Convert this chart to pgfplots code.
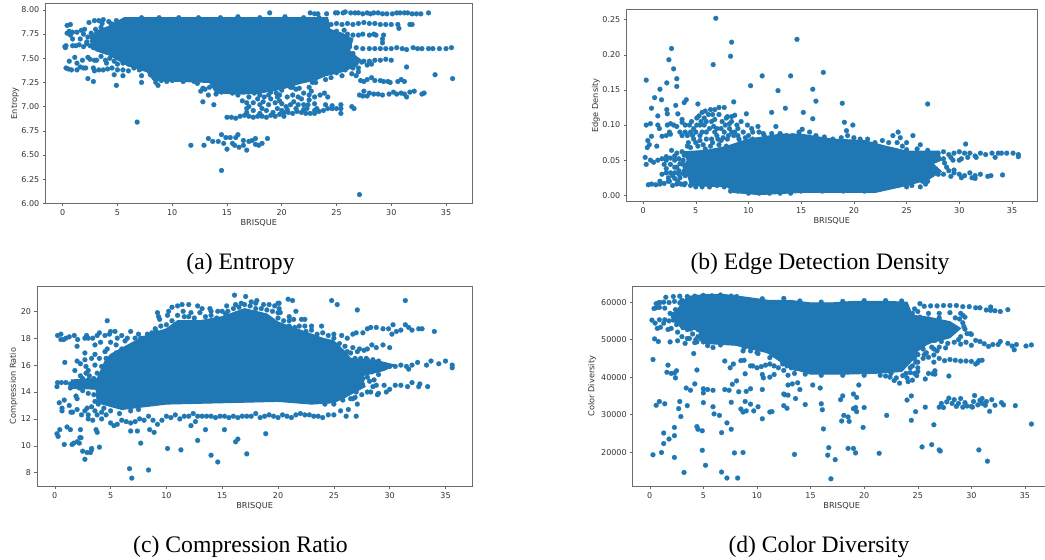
\documentclass[border=0pt]{standalone}
\usepackage{pgfplots}
\pgfplotsset{compat=1.18}
\usepackage{fontspec}
\setmainfont{DejaVu Sans}
\newfontfamily\capfont{Liberation Serif}
\definecolor{mpl}{HTML}{1F77B4}
\definecolor{tk}{HTML}{333333}
\pgfplotsset{panel/.style={
  scale only axis, anchor=south west,
  xmin=-1.59, xmax=37.4,
  xtick={0,5,...,35},
  tick align=outside, tick pos=left,
  major tick length=2.5pt,
  every tick/.style={draw=gray!80!black, line width=0.5pt},
  axis line style={draw=gray!85!black, line width=0.9pt},
  tick label style={font=\fontsize{8}{9}\selectfont, text=tk},
  label style={font=\fontsize{8.2}{9}\selectfont, text=tk},
  /pgf/number format/assume math mode=true,
  scaled ticks=false,
  xlabel={BRISQUE},
  xlabel style={at={(axis description cs:0.5,0)}, anchor=north, yshift=-12.5pt},
  ylabel style={at={(axis description cs:0,0.5)}, anchor=south},
  clip=true},
 core/.style={fill=mpl, draw=mpl, line width=1pt, no marks, forget plot},
 pts/.style={only marks, mark=*, mark size=2.45pt, mark options={fill=mpl, draw=mpl, line width=0.2pt}, forget plot}}
\begin{document}
\begin{tikzpicture}
\path[use as bounding box, clip] (0pt,0pt) rectangle (1045pt,560pt);
% (a) Entropy
\begin{axis}[panel, at={(45.3pt,356.7pt)}, width=427pt, height=200pt,
  ymin=6, ymax=8.069, ytick={6,6.25,...,8},
  yticklabel style={/pgf/number format/fixed, /pgf/number format/fixed zerofill, /pgf/number format/precision=2},
  ylabel={Entropy}, ylabel style={yshift=23pt}]
\addplot[core] coordinates {(5.6,7.92)(24.2,7.92)(24.4,7.8)(25.5,7.76)(26.5,7.7)(26.2,7.58)(27,7.5)(26.8,7.42)(25.5,7.36)(24,7.32)(23.2,7.28)(21.7,7.24)(20,7.18)(18,7.14)(16.5,7.13)(14,7.14)(13.4,7.25)(8.3,7.27)(7.7,7.36)(6,7.42)(4.3,7.53)(3,7.58)(2.5,7.68)(3,7.78)(4.2,7.83)(5.6,7.92)};
\addplot[pts] coordinates {
(3.5,7.52)(4.5,7.55)(5.5,7.45)(6.5,7.43)(5,7.55)(2.3,7.72)(2.7,7.72)(1.9,7.75)(3.5,7.82)(4.4,7.86)(5.2,7.85)(8,7.33)(9,7.29)(25,7.35)(25.8,7.38)(26.3,7.43)(24.5,7.3)(25.5,7.32)(24,7.28)(17,7.1)(17.8,7.08)(18.8,7.12)(19.8,7.12)(20.5,7.1)(21,7.12)(22,7.14)(22.5,7.07)(23,7.03)(21.5,7.02)(20.5,6.97)(21.3,6.98)(22.3,6.98)(23.2,6.98)(24,7.02)(17,7)(18.2,6.98)(18.8,7.02)(19.8,7.06)(16.8,6.94)(18,6.93)(19.2,6.94)(20.2,6.94)(22,6.97)(23,6.96)(24.6,7.01)
(4,7.45)(5,7.44)(6,7.44)(7,7.42)(7.5,7.4)(7.2,7.92)(8.8,7.92)(10.6,7.92)(12.4,7.92)(14.4,7.92)(16,7.93)(18,7.92)(20.3,7.93)(22,7.92)(23.4,7.92)(8.5,7.25)(9.5,7.26)(14,7.13)(16,7.12)(18,7.12)(19.5,7.14)(26.5,7.55)(25.6,7.45)(26.8,7.45)(27.3,7.46)(27,7.4)
(0.2,7.62)(0.3,7.63)(0.25,7.61)(0.9,7.63)(1.2,7.63)(1.5,7.64)(1.9,7.62)(2.2,7.65)(2.5,7.63)(2.8,7.61)(3.1,7.6)
(0.3,7.4)(0.5,7.39)(0.8,7.38)(1.3,7.38)(1.6,7.41)(1.9,7.4)(2.1,7.4)(2.8,7.4)(2.9,7.37)(3.3,7.38)(3.7,7.38)(4.1,7.39)(4.5,7.4)(5,7.38)(5.5,7.38)(6,7.37)(6.5,7.4)(7,7.38)
(0.6,7.47)(1.1,7.51)(1.3,7.45)(1.8,7.48)(2.3,7.51)(2.5,7.49)(2.9,7.48)(3.1,7.48)(3.9,7.48)(4.3,7.5)(4.7,7.47)(5.2,7.51)(5.7,7.47)(6.2,7.5)(6.7,7.47)
(0.4,7.84)(0.7,7.85)(0.4,7.76)(0.6,7.78)(0.7,7.74)(0.9,7.77)(0.9,7.7)(1.3,7.77)(1.7,7.79)(2,7.8)(2.4,7.87)(2.6,7.76)(3,7.8)(3.3,7.75)(3.6,7.7)(2.2,7.67)(1.6,7.7)(3,7.68)
(2.9,7.89)(3.3,7.89)(3.6,7.86)(3.7,7.9)(4.2,7.88)(4.6,7.85)(4.9,7.89)(5.4,7.88)(5.6,7.82)(4.9,7.8)
(2.3,7.29)(2.8,7.26)(4.9,7.22)(4.7,7.33)(5.5,7.32)(7.2,7.32)(7.2,7.25)(8.7,7.22)(12.3,7.24)(12.8,7.19)(12.6,7.16)(13,7.18)(13.3,7.12)(12.8,7.05)(13.8,7.02)(6.8,6.84)
(9,7.27)(10,7.27)(11,7.26)(12,7.26)(13.4,7.2)(14.5,7.15)(15.5,7.14)(17.5,7.14)(19,7.15)(20,7.17)(21,7.2)(21.6,7.19)(22.5,7.2)(22.8,7.25)(23.1,7.25)
(18.9,7.97)(22.6,7.97)(23,7.96)(23.3,7.96)(24.1,7.96)(24.9,7.97)(25.1,7.97)(25.6,7.97)(25.8,7.98)(26.3,7.97)(26.7,7.97)(27,7.97)(27.4,7.96)(27.8,7.97)(28.1,7.96)(28.4,7.97)(28.8,7.97)(29.2,7.96)(29.6,7.96)(30.1,7.96)(30.5,7.97)(30.8,7.97)(31.2,7.97)(31.5,7.97)(31.9,7.96)(32.3,7.96)(32.7,7.96)(33.4,7.97)
(24.5,7.85)(25,7.86)(25.5,7.85)(26,7.86)(26.5,7.85)(27,7.86)(27.5,7.87)(28,7.86)(28.5,7.86)(29,7.85)(29.5,7.85)(30,7.85)(30.6,7.85)(31.7,7.85)(31.9,7.85)(30.7,7.81)
(25,7.78)(25.7,7.79)(26,7.75)(26.5,7.74)(27,7.74)(27.4,7.75)(28,7.74)(28.4,7.75)(28.6,7.74)(29.3,7.74)(29.2,7.7)(29.2,7.66)
(26.2,7.62)(26.8,7.61)(27.4,7.6)(28,7.6)(28.5,7.6)(29,7.6)(29.5,7.6)(30,7.6)(30.5,7.61)(31,7.6)(31.4,7.59)(32,7.61)(32.4,7.6)(32.8,7.6)(33.4,7.6)(33.8,7.6)(34.4,7.6)(35,7.6)(35.5,7.61)
(26,7.5)(26.6,7.48)(27,7.48)(27.5,7.47)(28,7.47)(28.5,7.48)(29,7.48)(29.5,7.49)(30,7.48)(26.5,7.4)(27,7.36)(26.8,7.32)(26.4,7.34)(31.4,7.41)(28.2,7.44)(27.8,7.43)
(27.2,7.27)(27.5,7.26)(27.8,7.28)(28.2,7.3)(28.5,7.27)(29,7.27)(29.3,7.26)(29.7,7.26)(29.9,7.25)(30.6,7.26)(30.9,7.28)(31.2,7.26)(34,7.33)(35.6,7.29)
(27.1,7.12)(27.4,7.11)(27.5,7.16)(27.8,7.11)(28,7.14)(28.4,7.13)(28.8,7.13)(29.2,7.12)(29.8,7.13)(30.2,7.15)(30.5,7.13)(30.9,7.14)(31.2,7.13)(31.4,7.1)(31.7,7.15)(32.1,7.16)(32.8,7.13)(33,7.14)
(15,6.89)(15.4,6.89)(15.8,6.88)(16.2,6.9)(16.6,6.91)(17,6.9)(17.4,6.89)(17.8,6.9)(18.2,6.9)(18.6,6.89)(19,6.91)(19.4,6.9)(19.8,6.92)(20.2,6.9)(20.6,6.94)(21,6.93)(21.4,6.95)(21.8,6.94)(22.2,6.93)(22.6,6.93)(23,6.93)(23.4,6.95)(23.8,6.96)(24.2,6.98)(24.6,6.98)(25,6.98)(25.4,6.98)(25.4,6.93)(25.4,7.02)(26.4,7)(26.6,6.98)
(16.4,7.06)(16.8,7.04)(16.8,6.98)(17.4,7.04)(18,7.02)(18.3,7.05)(18.4,7.1)(19,7.08)(19.4,7.04)(19.6,7.1)(20,7.03)(20.4,7)(20.8,7.02)(21.1,7.05)(21.5,7.1)(21.8,7.08)(22,7.02)(22.4,7.02)(22.5,7.12)(23,7.1)(23.5,7.12)(23.9,7.14)(24.2,7.1)(20.8,7.2)(21.3,7.18)(22.7,7.16)(19.6,6.98)(20,6.96)(18.6,6.96)(17.4,6.96)
(11.7,6.6)(12.9,6.6)(13.3,6.67)(13.7,6.64)(14.2,6.64)(14.5,6.71)(14.7,6.62)(14.9,6.68)(15,6.56)(15.3,6.68)(15.5,6.62)(15.8,6.68)(16,6.71)(15.7,6.6)(16.1,6.58)(16.5,6.65)(16.5,6.6)(16.8,6.55)(17,6.64)(17.3,6.65)(17.6,6.67)(17.6,6.61)(17.9,6.6)(18.2,6.62)(18.7,6.67)(14.5,6.34)(27.1,6.09)};
\end{axis}
% (b) Edge Detection Density
\begin{axis}[panel, at={(626.3pt,358.3pt)}, width=411pt, height=192.4pt,
  ymin=-0.0091, ymax=0.2648, ytick={0,0.05,...,0.25},
  yticklabel style={/pgf/number format/fixed, /pgf/number format/fixed zerofill, /pgf/number format/precision=2},
  ylabel={Edge Density}, ylabel style={yshift=23pt}]
\addplot[core] coordinates {(3.8,0.062)(6,0.064)(8,0.07)(10,0.08)(13,0.087)(15,0.087)(18,0.08)(21,0.078)(23,0.07)(25,0.063)(28,0.063)(28.3,0.05)(27.5,0.045)(28.3,0.034)(27,0.022)(25,0.014)(22,0.004)(18,0.004)(15,0.004)(11,0.001)(8.6,0.004)(8,0.012)(4.5,0.014)(4.2,0.03)(3.8,0.04)(4.2,0.05)(3.8,0.062)};
\addplot[pts] coordinates {
(4.2,0.07)(4.8,0.08)(5.4,0.078)(6,0.09)(6.5,0.08)(7,0.095)(7.6,0.082)(8.4,0.09)(9,0.085)(9.7,0.082)(4.2,0.085)(4.6,0.105)(5.1,0.1)(5.8,0.11)(6.8,0.108)(7.2,0.115)(8.2,0.102)(10.4,0.09)(11,0.09)(2.2,0.055)(3,0.056)(3.5,0.045)(3,0.04)(2.2,0.038)(2.8,0.028)(3.4,0.035)(3.3,0.02)(2.5,0.02)(1.6,0.02)(26,0.066)(27,0.064)(27,0.02)(26.5,0.02)(28.8,0.04)(29.5,0.036)(28.6,0.046)(29.4,0.05)(30,0.05)
(4.5,0.068)(5.2,0.07)(5.9,0.066)(6.6,0.075)(7.4,0.078)(8,0.08)(8.6,0.085)(9.2,0.075)(4.8,0.095)(5.4,0.085)(6,0.105)(6.7,0.098)(7,0.085)(7.7,0.09)(8.2,0.095)(8.9,0.1)(9.3,0.105)(9.9,0.1)(6.2,0.115)(5.5,0.105)(7.5,0.105)(8,0.112)(9,0.095)(10.3,0.095)(11.4,0.088)(3.9,0.057)(3.9,0.035)(3.5,0.025)(4,0.028)(3.9,0.015)
(0.2,0.054)(0.3,0.044)(0.7,0.05)(1,0.047)(1.4,0.05)(1.8,0.052)(2.2,0.05)(2.6,0.053)(3,0.05)(3.4,0.052)(3.8,0.05)(2,0.044)(2.6,0.044)(3.2,0.04)(3.8,0.044)
(0.5,0.015)(0.8,0.016)(1.2,0.015)(1.6,0.016)(2,0.017)(2.4,0.02)(2.8,0.014)(3.2,0.016)(3.6,0.016)(4,0.017)
(1.8,0.03)(2.2,0.032)(2.6,0.032)(3,0.032)(3.4,0.03)(3.8,0.031)(2.4,0.025)(3,0.024)
(3.2,0.06)(3.7,0.062)(2.7,0.064)
(0.4,0.068)(0.6,0.072)(0.45,0.078)(0.8,0.084)(1.3,0.07)(1.4,0.1)(1.55,0.095)(1.8,0.084)(2.2,0.085)(2.5,0.09)(2.6,0.087)(2.3,0.1)(2.6,0.102)(2.9,0.1)(3.2,0.098)(3.5,0.09)(3.7,0.104)(3.7,0.085)(4,0.09)(4,0.1)(4.4,0.1)(4.5,0.09)(4.7,0.085)(5,0.09)(5.1,0.11)(5.4,0.1)(5.6,0.09)(5.8,0.1)(6,0.08)(6.3,0.095)(6.5,0.105)(6.8,0.09)(7.1,0.08)(7.4,0.095)(7.8,0.1)(8.1,0.085)(8.4,0.105)(8.7,0.09)(9.1,0.08)(9.5,0.09)(10,0.085)(10.4,0.08)(10.9,0.098)(4.3,0.075)(5,0.075)(5.7,0.072)(6.4,0.07)(7.2,0.072)(7.9,0.07)
(0.3,0.1)(0.7,0.102)(0.3,0.164)(0.8,0.124)(1.1,0.139)(1.6,0.151)(1.75,0.136)(1.4,0.113)(2.25,0.122)(2.3,0.116)(2.25,0.16)(2.45,0.193)(2.7,0.209)(2.9,0.18)(3.2,0.166)(3.2,0.155)(3.1,0.128)(3.3,0.116)(3.7,0.108)(3.9,0.132)(4.1,0.136)(5.2,0.13)(5.3,0.113)(5.6,0.118)(5.9,0.12)(6.4,0.122)(6.6,0.115)(6.8,0.122)(7.2,0.125)(7.7,0.125)(7.9,0.11)(8.4,0.112)(8.7,0.114)(8.6,0.133)(6.65,0.186)(6.9,0.252)(8.3,0.198)(8.4,0.218)(10.2,0.156)(9.8,0.116)(11.3,0.17)(12.2,0.118)(12.8,0.149)(12.6,0.098)(13.5,0.124)(14,0.17)(14.6,0.222)(15.2,0.118)(16.1,0.109)(16.1,0.151)(16.4,0.134)(17.1,0.175)(18.9,0.131)(19.1,0.104)(19.3,0.092)(19.9,0.1)(27,0.13)
(11.5,0.085)(12.2,0.088)(13,0.088)(13.6,0.085)(14.2,0.085)(14.8,0.09)(15.1,0.094)(15.8,0.09)(16.4,0.085)(17.2,0.083)(18,0.08)(18.8,0.082)(19.4,0.085)(20,0.082)(20.6,0.08)(21.3,0.08)(22,0.075)(22.7,0.078)(23.3,0.075)(23.7,0.085)(24.2,0.09)(24.4,0.082)(24.1,0.075)(24.6,0.07)(25,0.075)(25.6,0.085)(26.3,0.072)(25,0.065)(30.6,0.073)
(28,0.06)(28.5,0.062)(29,0.058)(29.5,0.06)(30,0.062)(30.5,0.06)(31,0.06)(31.5,0.056)(32,0.06)(32.5,0.058)(33.1,0.06)(33.4,0.054)(33.7,0.06)(34,0.06)(34.5,0.06)(35.1,0.06)(35.6,0.058)(35.6,0.055)(28.5,0.052)(29.2,0.054)(30.2,0.052)(30.8,0.054)(31.6,0.054)
(28,0.03)(28.5,0.03)(29,0.035)(29.5,0.032)(30,0.03)(30.5,0.028)(31,0.032)(31.5,0.028)(32,0.03)(32.7,0.027)(33,0.028)(34.1,0.029)(29.2,0.027)(30.2,0.025)(31.2,0.025)(31.5,0.024)
(25,0.012)(25.5,0.014)(26.3,0.012)(26.8,0.016)(24.2,0.014)(23.5,0.014)(22.9,0.012)
(8.3,0.006)(9,0.006)(10,0.003)(11,0.003)(12,0.003)(13,0.003)(14,0.003)(15,0.006)(17,0.006)(19,0.006)(21,0.006)(4.5,0.014)(5,0.012)(5.6,0.012)(6.3,0.012)(7,0.014)(7.7,0.012)};
\end{axis}
% (c) Compression Ratio
\begin{axis}[panel, at={(37pt,73.7pt)}, width=435.3pt, height=200.3pt,
  ymin=6.99, ymax=21.88, ytick={8,10,...,20},
  ylabel={Compression Ratio}, ylabel style={yshift=16pt}]
\addplot[core] coordinates {(3.8,15)(4.5,16.3)(5,16.8)(7,17.7)(8.5,18.3)(10,18.7)(11,19.3)(13,19.3)(15,19.6)(17,20.2)(19,19.8)(20,19.2)(22,18.6)(24,18)(25,17.8)(26,17)(26.5,16.5)(29,16.3)(30.5,16)(29.5,15.6)(27.5,15.2)(27.8,14.4)(26,13.6)(25,13.2)(23,13.1)(20,13.3)(15,13.2)(10,13.1)(6,12.7)(3.8,13.2)(3.7,14.2)(1.5,14.3)(1.5,14.9)(3.8,15)};
\addplot[pts] coordinates {
(10.5,19.3)(11,19.7)(11.5,20)(12,19.6)(12.5,19.5)(13,19.9)(13.5,19.6)(14,19.7)(14.5,19.5)(15,20)(15.5,20)(16,20.2)(16.5,20.3)(15.3,19.8)(14,20)(17,20.5)(17.5,20.4)(18,20.2)(18.5,20.2)(19,20.1)(19.5,20)(20,19.9)(20.5,19.3)(21,18.9)(21.5,18.8)(22.5,18.5)(23,18.6)(23.5,18.3)(24,18.4)(24.5,18.2)(25,18)(9,18.7)(9.5,18.9)(10,19)(8,18)(7.5,18.3)(6.5,18)(5.5,17.5)(6,17.2)(5,17.7)(4.5,17)(4,16.5)(5.5,16.9)(3.5,15)(3,14.9)(3,15.6)(3.8,15.4)(4,14)(3.5,13.8)(3,13.9)(3.6,12.6)(4.4,12.8)(5,12.6)(5.8,12.4)(6.8,12.6)(7.5,12.7)(26.5,16.9)(26.9,16.5)(27.4,16.5)(27.9,16.5)(28.5,16.4)(26.5,13.5)(27.5,15.6)(28,15.5)(28.2,14.8)(28.8,14.5)(27.2,14.8)(25.8,13.4)(25,13.1)(24.2,13.1)
(0.2,14.4)(0.25,14.7)(0.6,14.7)(1,14.7)(1.4,14.6)(1.4,14.3)(1.8,14.4)(2.2,14.3)(2.5,14.1)
(0.4,13.2)(0.65,12.6)(0.65,12.8)(0.85,13.4)(1.3,13)(1.45,12.5)(1.6,12.5)(1.9,13.7)(2,13.5)(2,12.7)(2.4,12.3)(2.7,12.6)(2.9,12.8)(3,12.3)(3.3,12.9)(3.6,13.3)(3.9,13.1)(4.2,12.5)
(0.25,18.2)(0.55,18.3)(0.55,17.9)(0.8,17.9)(1,18)(1.3,18.1)(1.75,18.2)(2.05,17.9)(2,17.4)(2.7,18)(2.85,18.2)(3,18)(3.4,18)(3.6,17.5)(3.8,18.2)(4,18.4)(4.1,17.7)(4.5,18.2)(4.9,18.3)(5,18.5)(4.7,19.3)(5.4,18.5)(5.6,18)(6,18.2)(6.3,17.8)(6.8,18.5)(7.2,18)(7.7,18)(8.3,18.3)(8.7,18.4)(9.1,18.5)
(0.9,16.2)(1.8,15.6)(2,16.3)(2.3,16.1)(2.7,16.9)(2.7,16.4)(2.8,15.9)(2.8,15.4)(3.1,15.2)(3.3,16.5)(3.6,16)(3.6,16.8)(4.2,15.9)(4.6,16.5)(4.7,17.2)(2.3,15.2)(2.5,15)
(0.2,10.9)(0.3,10.7)(0.45,11.2)(0.85,10.1)(1.1,11.4)(1.4,11.2)(1.55,10.1)(1.7,10.2)(2,10.3)(2.2,10.2)(2.25,10.6)(2.35,10.6)(2.3,11.2)(2.5,9.6)(2.7,9)(2.9,9.5)(3.2,9.5)(3.3,9.7)(3.3,9.8)(4,9.9)(3.7,11.2)(3.8,11)(6.7,8.3)(6.9,7.6)(6.8,11.1)(7.4,11.1)(7.7,10.2)(8.4,8.2)(8.5,11.2)(8.9,11)(10.1,9.8)(11.3,9.7)(12.2,11.5)(12.6,11.8)(12.8,10.4)(13.5,11.2)(14,9.3)(14.6,8.8)(15.2,11.2)(16.2,10.3)(16.4,10.5)(17.2,9.4)(18.9,10.9)
(3,12)(3.4,11.9)(3.8,12.3)(4.2,12)(4.6,12.3)(5,11.7)(5.3,11.5)(5.6,11.6)(6,11.9)(6.4,11.8)(6.8,11.7)(7.2,11.8)(7.6,12)(8,11.9)(8.4,12.2)(8.8,11.9)(9.2,11.6)(9.6,11.9)(10,12.2)(10.4,12.1)(10.8,12.3)(11.2,12)(11.6,12.2)(12,12.2)(12.4,12.4)(12.8,12.2)(13.2,12.2)(13.6,12.2)(14,12.2)(14.4,12.1)(14.8,12.2)(15.2,12.2)(15.6,12.1)(16,12.2)(16.4,12.1)(16.8,12.2)(17.2,12.2)(17.6,12.2)(18,12.4)(18.4,12.1)(18.8,12.2)(19.2,12.3)(19.6,12.2)(20,12.1)(20.4,12.3)(20.8,12.2)(21.2,12.1)(21.6,12.3)(22,12.4)(22.4,12.3)(22.8,12.3)(23.2,12.2)(23.6,12.2)(24,12.1)(24.5,12.3)(25,12.3)(25.6,12.6)(26.1,12.2)(26.3,12.7)(27,12.2)(27.1,13.1)(26.7,13.5)
(9.2,19.9)(9.3,19.6)(9.4,19.4)(10.1,19.7)(10.2,20)(10.5,20.3)(11,20.4)(11.4,20.5)(12,20.5)(12.2,19.9)(11.6,19.6)(12.8,20.4)(13.2,20.2)(13.9,20.2)(14.6,20)(15.4,20.4)(16.1,21.2)(16.2,20.5)(16.7,20.6)(17.1,21.1)(17.6,20.7)(18,20.6)(18.1,20.8)(18.7,20.5)(19.2,20.5)(19.7,20.4)(20,20.6)(20.1,20.2)(20.2,19.9)(20,19.5)(21,19.3)(21.6,20)(21.4,19.4)(22.1,19.4)(22.4,19.4)(20.1,20.6)(20.9,20.9)(21.3,20.8)(21,19.6)(21.9,18.9)(22.4,18.9)(23,18.9)(23.9,18.9)
(24.8,20.8)(25.3,20.5)(27.1,20.1)(31.4,20.8)
(25,18.3)(25.7,18.2)(26.2,18)(26.7,18.3)(27,18.4)(27.6,18.4)(28,18.7)(28.3,18.8)(28.8,18.8)(29.4,18.7)(29.9,18.7)(30.3,19)(30.6,18.5)(31,18.6)(31.4,19)(31.7,18.8)(32,18.6)(32.6,18.7)(32.9,18.7)(34,18.5)(30.2,18.3)
(26.2,17)(26.7,17.3)(27.1,17)(27.3,17.2)(28,17.2)(28.4,17.5)(28.8,17.3)(29.4,17.5)(30,17.3)(27.7,17.1)(25.5,17.6)(26,17.4)
(29.6,16)(30,15.9)(30.5,15.9)(31,16)(31.5,15.9)(31.7,15.7)(32,16)(32.5,16.2)(33.3,16)(33.7,16.3)(34.4,16.1)(35,16.3)(35.6,16)(35.6,15.8)(28.4,15.5)(29,15.3)(29,16.3)(28,16.4)
(27,14)(27.5,14.5)(28,14)(28.5,14.4)(29,13.9)(29.5,14.5)(30,14.2)(30.5,14.5)(31,14.5)(31.6,14.4)(32,14.7)(32.6,14.4)(32.7,14.6)(33.4,14.4)(28.3,14)(28.9,13.8)(29.7,14)(26.9,13.6)(27.5,13.8)(28,15.1)(28.6,14.9)(27.6,15)};
\end{axis}
% (d) Color Diversity
\begin{axis}[panel, at={(632.7pt,73.7pt)}, width=418pt, height=200.3pt,
  ymin=10900, ymax=64300, ytick={20000,30000,...,60000},
  /pgf/number format/1000 sep={},
  ylabel={Color Diversity}, ylabel style={yshift=33pt}]
\addplot[core] coordinates {(3.5,61500)(5,62000)(7,62000)(9,61300)(11,60500)(13,60500)(15,59800)(17,59800)(19,60200)(22,60200)(24,60000)(24.5,56500)(26,56000)(28,54800)(29,53000)(28,50500)(26,49000)(25,47000)(24.5,44500)(23.5,41500)(21,41000)(18,40800)(15,40800)(13,42500)(11,46500)(8,48500)(5,49000)(4.5,52600)(3,53000)(2,56000)(3.5,61500)};
\addplot[pts] coordinates {
(3.5,52700)(4,51500)(4.3,50000)(4.8,50200)(3.2,54500)(3.8,54200)(2.4,58000)(3,58600)(3,60500)(1.9,57000)(2.5,55000)(25.5,47500)(26.3,48000)(26.8,47000)(27.6,47800)(25.5,45000)(25,46000)(25,41500)(23,39800)(23.9,41000)(24.3,42500)(24.7,45000)(24.8,44000)(29.2,56500)(28.5,55800)(27,55800)(26,57000)(26,55500)(29.4,56000)(28.8,50000)
(22.5,41000)(23.5,42500)(24.5,43000)(25,44000)(25.8,46500)(26.5,47500)(27,48000)(24,39800)(12.5,41800)(13.5,41000)(14.5,40800)(16,40500)(18,40500)(20,40500)(21.5,40500)(9.5,47800)(11.5,46000)(12,45500)(10.5,60900)(12.5,61000)(14,60300)(16,60000)(18,60200)(20,60400)(22,60400)(23.5,60300)(24.5,57000)(25.2,56000)
(1.5,61300)(2.2,61500)(2.8,61600)(3.5,61500)(4.2,61600)(5,61800)(5.8,61700)(6.6,61900)(7.6,61600)(8.1,61500)(0.6,59600)(0.8,59800)(0.95,59900)(1.3,60000)(1.4,58400)(1.8,59900)(2.3,60200)(2.8,59800)(0.4,58300)(0.6,58500)(0.9,58600)
(2.2,56700)(2.6,57200)(3,56800)(3.5,58000)(1.4,55300)(0.9,55300)(0.5,54400)(0.7,53000)(0.2,55200)(1,53300)(1.3,54400)(1.8,55000)(2.2,55200)(1.7,52700)(2,53000)(2.5,54000)(2.6,52000)(3.1,53200)(3.8,52800)(4.5,52700)(4.3,53500)(4.6,55500)
(0.45,50200)(0.8,49500)(1.9,49400)(2.6,49700)(3,50800)(3.3,49000)(3.5,50300)(3.7,50300)(4.2,49200)(4.4,49400)(4.5,50800)(5,49400)(5.2,51000)(5.4,48400)(5.9,47900)(6.6,48600)(8.7,47000)(8.8,47800)(9.4,47000)(10,46600)(10.1,46300)(10.6,47700)(11,47000)(4.1,46300)
(0.3,44700)(1.7,43200)(1.6,41300)(2,41000)(2.3,41100)(2.5,41700)(2.4,39800)(4.4,41900)(4.2,38200)(7,44300)(7.5,42500)(7.8,43500)(8.5,44400)(8.8,44500)(9.4,43000)(9.6,43000)(10,42500)(10.4,42800)(10.8,43200)(11.2,43500)(11.6,43000)(12,42500)(12.4,43500)(12.8,43000)(11.2,45200)(12.4,44200)(13.2,42500)(13.6,42300)(8.9,40900)(10.5,40700)(10.6,39800)(11.2,40000)(11.6,40700)(12.9,40500)
(3.4,37100)(3.8,36500)(5,36900)(5,35800)(5.4,36700)(5.9,36500)(7,36700)(7.4,36500)(8.3,36100)(9,36200)(9.4,36900)(10.5,36700)(7.7,38100)(8.1,39000)(12.5,35500)(12.6,35300)(12.9,35200)(12.9,37900)(13.3,38200)(13.8,38500)(14,36700)(13.6,34300)(15.2,37900)(15.9,37100)
(0.6,32500)(0.9,33500)(1.4,32900)(2.7,31600)(2.8,33500)(3.5,32400)(2.9,29500)(5,33200)(5.9,32100)(6,30200)(6.5,29800)(7.6,33300)(8.5,31500)(8.7,30700)(8.9,33500)(9,31000)(9.4,32800)(9.7,31000)(10.1,32100)(10.5,28900)(11.2,30700)(11.4,30800)(12.5,32400)(12.8,31700)(14.5,32700)(16,32900)(16.1,31300)
(1.3,25100)(2.3,26600)(2.3,24400)(1.8,23500)(1.3,22300)(4.4,26800)(4.5,26100)(4.9,25700)(6.7,25200)(7.2,27800)(7.6,26100)(16.2,26200)(0.3,19300)(1.1,19900)(2.3,18600)(4.9,20500)(3.2,14600)(5.2,16500)(6.7,14700)(7.2,13100)(8.2,13100)(7.9,19800)(8.7,19900)(13.5,19400)(16.6,19200)(16.7,21200)(17.3,18000)(16.9,12900)(18.5,21000)(19,21000)(19.2,19800)(21.4,19700)
(17.8,34000)(18,35000)(17.9,28300)(18.1,29800)(18.5,29400)(18.6,28200)(19,35500)(19.3,34600)(19,31600)(19.2,31900)(19.3,30800)(19.5,37900)(20,31900)(19.9,26600)(22.1,29800)(24,33900)(24.4,35000)(24.4,28500)(24.8,30800)(25.7,32000)(26.5,27300)(25.4,21400)(26.3,22000)(27,20600)(27.1,20300)(27.9,40300)
(27,32000)(27.2,33000)(27.4,31900)(27.7,33400)(27.9,34400)(28.2,33000)(28.4,34000)(28.6,32200)(28.8,33000)(29,34300)(29.2,32000)(29.4,33200)(29.6,32300)(30,32200)(30.2,33500)(30.6,32600)(30.8,33800)(31,34300)(31.3,32500)(31.4,33500)(31.9,34000)(32.2,32500)(30.3,35100)(30.1,32000)(31,33000)(31.7,30900)(32.8,33200)(33,32600)(34.1,32400)(35.6,27500)(30.7,20600)(31.5,17600)
(24.7,58200)(25.2,59600)(25.6,58900)(26.2,59000)(26.8,59000)(27.4,59100)(28,59100)(28.6,59100)(29.2,58800)(29.8,58800)(30.4,58500)(30.8,58500)(31.4,57900)(31.8,57800)(32.2,57700)(32.7,57500)(33.4,58000)(31.8,58700)(25,57500)(27,57000)(28,57200)(29,57000)
(28.9,55500)(29.2,54500)(29.3,53500)(29.4,52800)(29.6,51600)(29.9,51600)(30,51400)(27.8,52000)(28.5,52700)(29,50800)
(25.5,49300)(26,49400)(26.6,49800)(27.2,49500)(27.8,49000)(28.4,49300)(29,48800)(29.5,49300)(30,48500)(30.4,49800)(30.8,49500)(31.2,48900)(31.6,48200)(32,48700)(32.5,48700)(32.7,49500)(33.4,49000)(33.8,48300)(34,47300)(34.2,48700)(35.1,48300)(35.6,48600)
(25,46000)(25.6,46000)(26,45300)(26.5,45900)(27,45000)(27.5,44400)(28,44700)(28.5,44500)(29,44300)(29.5,44300)(30,44200)(30.4,43500)(30.7,44400)(31,44500)(30.6,43900)(26.5,44000)(25,42500)(26,41000)(26.4,40900)(26.6,41700)(26.6,40800)(25.7,39500)(24.9,40400)(24.7,41000)(24.5,39200)(24.1,38800)(23.3,38400)(22.8,39100)(22.4,40000)(22,40300)(23.6,40400)(24.3,41200)};
\end{axis}
\node[anchor=base, font=\fontsize{23.6}{26}\capfont] at (240.5pt,290pt) {(a) Entropy};
\node[anchor=base, font=\fontsize{23.6}{26}\capfont] at (820pt,290pt) {(b) Edge Detection Density};
\node[anchor=base, font=\fontsize{23.7}{26}\capfont] at (240.5pt,7pt) {(c) Compression Ratio};
\node[anchor=base, font=\fontsize{23.6}{26}\capfont] at (819pt,7pt) {(d) Color Diversity};
\end{tikzpicture}
\end{document}
